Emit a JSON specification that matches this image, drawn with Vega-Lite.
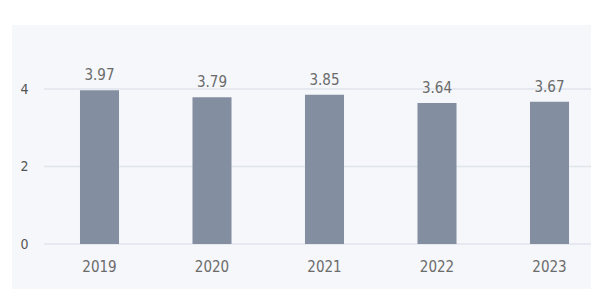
{
  "$schema": "https://vega.github.io/schema/vega-lite/v6.json",
  "autosize": "none",
  "width": 579,
  "height": 264,
  "padding": {"left": 12, "top": 25, "right": 10, "bottom": 12},
  "background": "#ffffff",
  "config": {
    "view": {"fill": "#f5f7fa", "stroke": null},
    "font": "Liberation Sans Narrow, DejaVu Sans Condensed, Roboto, sans-serif"
  },
  "datasets": {
    "bars": [
      {"year": "2019", "value": 3.97},
      {"year": "2020", "value": 3.79},
      {"year": "2021", "value": 3.85},
      {"year": "2022", "value": 3.64},
      {"year": "2023", "value": 3.67}
    ],
    "grid": [
      {"tick": 0, "start": 0, "end": 1},
      {"tick": 2, "start": 0, "end": 1},
      {"tick": 4, "start": 0, "end": 1}
    ]
  },
  "layer": [
    {
      "data": {"name": "grid"},
      "mark": {"type": "rule", "color": "#e1e5eb", "strokeWidth": 1.3},
      "encoding": {
        "x": {"field": "start", "type": "quantitative", "scale": {"domain": [0, 1], "range": [32, 579], "nice": false, "zero": false}, "axis": null},
        "x2": {"field": "end"},
        "y": {
          "field": "tick", "type": "quantitative",
          "scale": {"domain": [0, 4], "range": [219, 64], "nice": false, "zero": true},
          "axis": {"orient": "left", "offset": -32, "title": null, "domain": false, "ticks": false, "values": [0, 2, 4], "format": "d", "labelPadding": 16, "labelFontSize": 14, "labelColor": "#555555", "labelFont": "Liberation Sans Narrow, DejaVu Sans Condensed, Roboto, sans-serif", "grid": false}
        }
      }
    },
    {
      "data": {"name": "bars"},
      "encoding": {
        "x": {
          "field": "year", "type": "nominal",
          "scale": {"range": [31.25, 593.75], "paddingInner": 0.653, "paddingOuter": 0.3265},
          "axis": {"orient": "bottom", "offset": -45, "title": null, "domain": false, "ticks": false, "labelAngle": 0, "labelPadding": 15, "labelFontSize": 15, "labelColor": "#6b6b6b", "labelFont": "Liberation Sans Narrow, DejaVu Sans Condensed, Roboto, sans-serif", "grid": false}
        },
        "y": {"field": "value", "type": "quantitative"}
      },
      "layer": [
        {"mark": {"type": "bar", "color": "#838fa1"}},
        {
          "mark": {"type": "text", "baseline": "alphabetic", "dy": -10, "fontSize": 15, "color": "#6b6b6b", "font": "Liberation Sans Narrow, DejaVu Sans Condensed, Roboto, sans-serif"},
          "encoding": {"text": {"field": "value", "type": "quantitative", "format": ".2f"}}
        }
      ]
    }
  ],
  "resolve": {"scale": {"x": "independent"}, "axis": {"x": "independent"}}
}
